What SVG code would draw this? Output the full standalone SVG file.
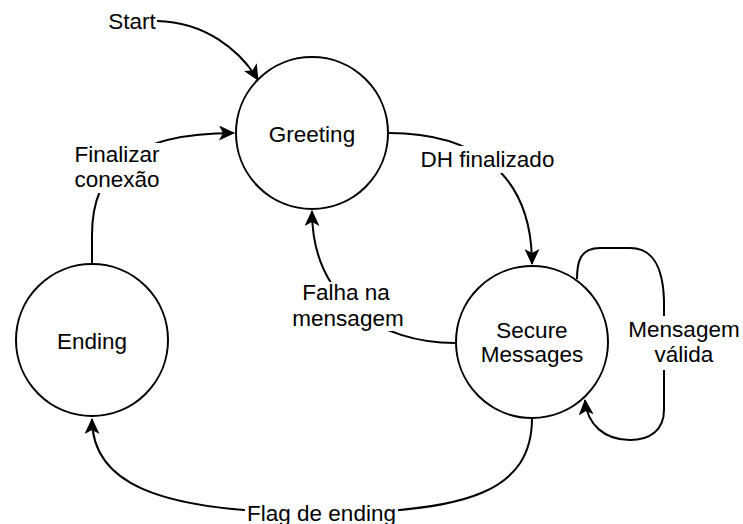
<svg xmlns="http://www.w3.org/2000/svg" width="743" height="524" viewBox="0 0 743 524">
  <style>
    .state { fill: #ffffff; stroke: #000000; stroke-width: 2; }
    .edge { fill: none; stroke: #000000; stroke-width: 2; marker-end: url(#arrow); }
    .lbl { font-family: "Liberation Sans", Arial, Helvetica, sans-serif; font-size: 22.5px; fill: #000000; text-anchor: middle; }
    .bg { fill: #ffffff; stroke: none; }
  </style>
  <defs>
    <marker id="arrow" viewBox="0 0 16 15" refX="15" refY="7.5" markerWidth="16" markerHeight="15" markerUnits="userSpaceOnUse" orient="auto">
      <path d="M16,7.5 L0,0 L4,7.5 L0,15 Z" fill="#000000"/>
    </marker>
  </defs>

  <rect width="743" height="524" fill="#ffffff"/>

  <!-- transitions -->
  <g id="connectors">
    <path class="edge" d="M157,21 C205,22 240,50 258,80"/>
    <path class="edge" d="M92,264 L92,235 C92,170 130,133 234,133"/>
    <path class="edge" d="M389,133 C470,133 532,170 532,264"/>
    <path class="edge" d="M455,343 C380,343 312,300 312,211"/>
    <path class="edge" d="M577,279 C577,262 580,248 600,248 L630,248 C655,248 663,270 664,300 L664,410 C664,430 650,440 630,440 C605,440 587,425 585,400"/>
    <path class="edge" d="M532,418 C532,490 470,513 322,513 C150,513 92,480 92,419"/>

    <!-- transition labels -->
    <g id="label-dh">
      <rect class="bg" x="420" y="146" width="135" height="27"/>
      <text class="lbl" x="487.5" y="167">DH finalizado</text>
    </g>
    <g id="label-finalizar">
      <rect class="bg" x="72" y="143" width="90" height="50"/>
      <text class="lbl" x="117" y="162">Finalizar</text>
      <text class="lbl" x="117" y="187">conexão</text>
    </g>
    <g id="label-falha">
      <rect class="bg" x="291" y="282" width="115" height="49"/>
      <text class="lbl" x="346" y="300">Falha na</text>
      <text class="lbl" x="348" y="326">mensagem</text>
    </g>
    <g id="label-valida">
      <rect class="bg" x="626" y="316" width="117" height="54"/>
      <text class="lbl" x="684" y="337">Mensagem</text>
      <text class="lbl" x="684" y="362">válida</text>
    </g>
    <g id="label-flag">
      <rect class="bg" x="245" y="502" width="153" height="22"/>
      <text class="lbl" x="321.5" y="521">Flag de ending</text>
    </g>
  </g>

  <g id="start">
    <text class="lbl" x="132" y="29">Start</text>
  </g>

  <g id="greeting">
    <circle class="state" cx="312" cy="133" r="76"/>
    <text class="lbl" x="312" y="142">Greeting</text>
  </g>

  <g id="secure-messages">
    <circle class="state" cx="532" cy="342" r="76"/>
    <text class="lbl" x="532" y="338">Secure</text>
    <text class="lbl" x="532" y="362">Messages</text>
  </g>

  <g id="ending">
    <circle class="state" cx="92" cy="340" r="76"/>
    <text class="lbl" x="92" y="349">Ending</text>
  </g>
</svg>
